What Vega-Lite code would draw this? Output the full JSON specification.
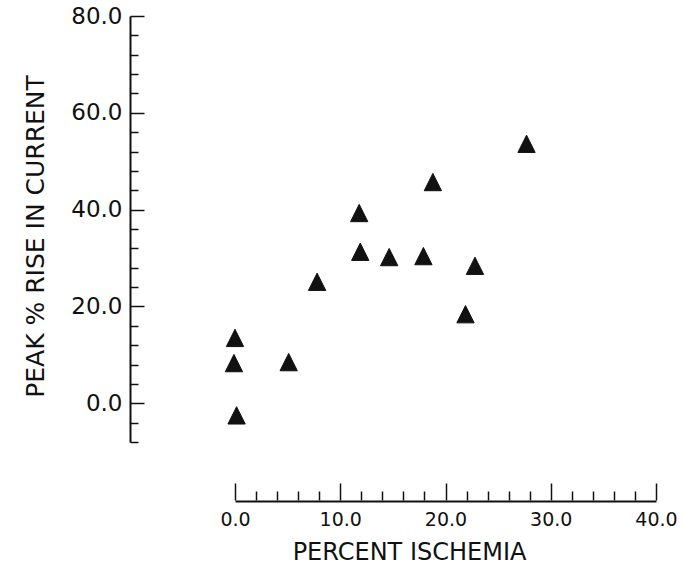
{
  "$schema": "https://vega.github.io/schema/vega-lite/v6.json",
  "autosize": {"type": "none"},
  "width": 421,
  "height": 426,
  "padding": {"left": 235, "top": 16, "right": 29, "bottom": 124},
  "background": "white",
  "config": {
    "view": {"stroke": null},
    "axis": {
      "domainColor": "#111",
      "domainWidth": 2,
      "tickColor": "#111",
      "tickWidth": 1.5,
      "labelColor": "#111",
      "titleColor": "#111",
      "labelFont": "DejaVu Sans",
      "titleFont": "DejaVu Sans",
      "titleFontWeight": "normal",
      "grid": false
    }
  },
  "data": {
    "values": [
      {"ischemia": 27.7, "rise": 53.6},
      {"ischemia": 18.8, "rise": 45.7},
      {"ischemia": 11.8, "rise": 39.3},
      {"ischemia": 11.9, "rise": 31.3},
      {"ischemia": 14.65, "rise": 30.2},
      {"ischemia": 17.9, "rise": 30.4},
      {"ischemia": 22.8, "rise": 28.4},
      {"ischemia": 7.8, "rise": 25.1},
      {"ischemia": 21.9, "rise": 18.4},
      {"ischemia": 0.0, "rise": 13.5},
      {"ischemia": -0.1, "rise": 8.3},
      {"ischemia": 5.1, "rise": 8.5},
      {"ischemia": 0.15, "rise": -2.5}
    ]
  },
  "resolve": {"axis": {"x": "independent", "y": "independent"}},
  "layer": [
    {
      "mark": {
        "type": "point",
        "shape": "M0,-1L-1,1L1,1Z",
        "size": 300,
        "filled": true,
        "color": "#111",
        "opacity": 1,
        "strokeWidth": 1,
        "stroke": "#111",
        "strokeJoin": "round"
      },
      "encoding": {
        "x": {
          "field": "ischemia",
          "type": "quantitative",
          "scale": {"domain": [0, 40], "nice": false, "zero": false},
          "axis": {
            "orient": "bottom",
            "offset": 59,
            "values": [0, 10, 20, 30, 40],
            "format": ".1f",
            "ticks": false,
            "labelFontSize": 19,
            "labelPadding": 9,
            "labelFlush": false,
            "labelOverlap": false,
            "title": "PERCENT ISCHEMIA",
            "titleFontSize": 24,
            "titleAlign": "center",
            "titleBaseline": "alphabetic",
            "titleX": 174,
            "titleY": 58
          }
        },
        "y": {
          "field": "rise",
          "type": "quantitative",
          "scale": {"domain": [-8, 80], "nice": false, "zero": false},
          "axis": {
            "orient": "left",
            "offset": 105,
            "values": [0, 20, 40, 60, 80],
            "format": ".1f",
            "ticks": false,
            "labelFontSize": 23,
            "labelPadding": 8,
            "labelFlush": false,
            "labelOverlap": false,
            "title": "PEAK % RISE IN CURRENT",
            "titleFontSize": 25,
            "titleAngle": 270,
            "titleAlign": "center",
            "titleBaseline": "alphabetic",
            "titleX": -87,
            "titleY": 220
          }
        }
      }
    },
    {
      "mark": {"type": "point", "opacity": 0},
      "encoding": {
        "x": {
          "field": "ischemia",
          "type": "quantitative",
          "axis": {
            "orient": "top",
            "offset": -484,
            "values": [0, 2, 4, 6, 8, 10, 12, 14, 16, 18, 20, 22, 24, 26, 28, 30, 32, 34, 36, 38, 40],
            "labels": false,
            "domain": false,
            "tickSize": {"condition": {"test": "datum.value % 10 === 0", "value": 17}, "value": 9},
            "title": null
          }
        },
        "y": {
          "field": "rise",
          "type": "quantitative",
          "axis": {
            "orient": "right",
            "offset": -526,
            "values": [-8, -4, 0, 4, 8, 12, 16, 20, 24, 28, 32, 36, 40, 44, 48, 52, 56, 60, 64, 68, 72, 76, 80],
            "labels": false,
            "domain": false,
            "tickSize": {"condition": {"test": "datum.value % 20 === 0", "value": 14}, "value": 8},
            "title": null
          }
        }
      }
    }
  ]
}
